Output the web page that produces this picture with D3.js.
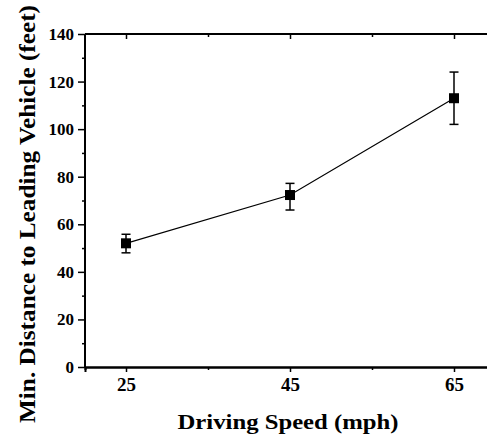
<!DOCTYPE html>
<html>
<head>
<meta charset="utf-8">
<script src="https://cdn.jsdelivr.net/npm/d3@7"></script>
<style>
  html, body { margin: 0; padding: 0; background: #fff; overflow: hidden; }
  svg { display: block; }
</style>
</head>
<body>
<script>
const speeds = [25, 45, 65];
const distances = [52, 72.3, 113];
const errLow = [48, 66, 102];
const errHigh = [55.8, 77.2, 124];
const xTicks = [25, 45, 65];
const xMinorTicks = [35, 55];
const yTicks = [0, 20, 40, 60, 80, 100, 120, 140];
const yMinorTicks = [10, 30, 50, 70, 90, 110, 130];
const xTitle = "Driving Speed (mph)";
const yTitle = "Min. Distance to Leading Vehicle (feet)";

const FONT = "Liberation Serif";
const W = 487, H = 437;
const svg = d3.select("body").append("svg").attr("width", W).attr("height", H);

const x = d3.scaleLinear().domain([20, 70]).range([85, 495]);
const y = d3.scaleLinear().domain([0, 140]).range([367, 34]);

// axes
const gLeft = svg.append("g").attr("transform", `translate(${x(20)},0)`);
gLeft.call(d3.axisLeft(y).tickValues(yTicks).tickSize(7).tickPadding(4).tickFormat(d3.format("d")));
gLeft.append("g").call(d3.axisLeft(y).tickValues(yMinorTicks).tickSize(3).tickFormat(""));
const gBottom = svg.append("g").attr("transform", `translate(0,${y(0)})`);
gBottom.call(d3.axisBottom(x).tickValues(xTicks).tickSize(5).tickPadding(6).tickFormat(d3.format("d")));
gBottom.append("g").call(d3.axisBottom(x).tickValues(xMinorTicks).tickSize(3).tickFormat(""));
const gTop = svg.append("g").attr("transform", `translate(0,${y(140)})`);
gTop.call(d3.axisBottom(x).tickValues(xTicks).tickSize(5).tickFormat(""));
gTop.append("g").call(d3.axisBottom(x).tickValues(xMinorTicks).tickSize(3).tickFormat(""));

svg.selectAll(".domain").attr("stroke", "#000").attr("stroke-width", 2);
svg.selectAll(".tick line").attr("stroke", "#000").attr("stroke-width", 1.5);
gTop.selectAll(".domain").attr("d", `M${x(20)},0H${x(70)}`);
gLeft.selectAll("path.domain").attr("d", `M0,${y(0)}V${y(140)}`);
gLeft.selectAll(".tick text").style("font-family", FONT).style("font-weight", "bold").style("font-size", "17px").style("fill", "#000");
gBottom.selectAll(".tick text").style("font-family", FONT).style("font-weight", "bold").style("font-size", "19px").style("fill", "#000");

// line
const line = d3.line().x((d, i) => x(speeds[i])).y(d => y(d));
svg.append("path").datum(distances).attr("d", line)
  .attr("fill", "none").attr("stroke", "#000").attr("stroke-width", 1.2);

// error bars
const eb = svg.append("g").attr("stroke", "#000").attr("stroke-width", 1.5);
speeds.forEach((s, i) => {
  eb.append("line").attr("x1", x(s)).attr("x2", x(s)).attr("y1", y(errLow[i])).attr("y2", y(errHigh[i]));
  eb.append("line").attr("x1", x(s) - 4.5).attr("x2", x(s) + 4.5).attr("y1", y(errLow[i])).attr("y2", y(errLow[i]));
  eb.append("line").attr("x1", x(s) - 4.5).attr("x2", x(s) + 4.5).attr("y1", y(errHigh[i])).attr("y2", y(errHigh[i]));
});

// markers
svg.append("g").selectAll("rect").data(distances).join("rect")
  .attr("x", (d, i) => x(speeds[i]) - 5).attr("y", d => y(d) - 5)
  .attr("width", 10).attr("height", 10).attr("fill", "#000");

// titles
svg.append("text").attr("x", 288).attr("y", 429).attr("text-anchor", "middle")
  .style("font-family", FONT).style("font-weight", "bold").style("font-size", "21px")
  .attr("textLength", 221).attr("lengthAdjust", "spacingAndGlyphs")
  .text(xTitle);
svg.append("text").attr("transform", "translate(35,214) rotate(-90)").attr("text-anchor", "middle")
  .style("font-family", FONT).style("font-weight", "bold").style("font-size", "24px")
  .attr("textLength", 418).attr("lengthAdjust", "spacingAndGlyphs")
  .text(yTitle);
</script>
</body>
</html>
